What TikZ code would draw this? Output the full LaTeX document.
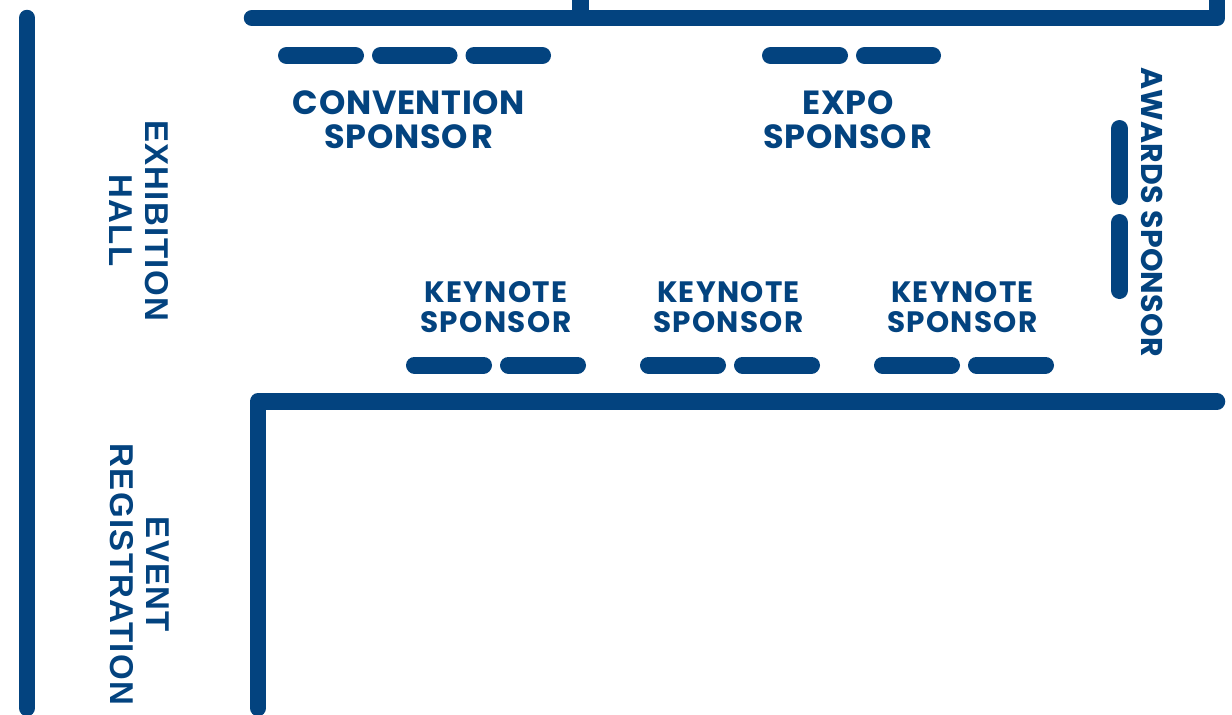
\documentclass[tikz,border=0pt]{standalone}
\usepackage{fontspec}
\newfontfamily\bigfont{Poppins Bold}[LetterSpace=2]
\newfontfamily\smallfont{Poppins Bold}[LetterSpace=4.4]
\newfontfamily\awardfont{Poppins Bold}[LetterSpace=0.7]
\newfontfamily\hallfont{Liberation Sans Bold}[LetterSpace=4]
\definecolor{navy}{HTML}{03437F}
\tikzset{
  x=1pt,y=-1pt,
  wall/.style={line width=16.5pt,draw=navy,line cap=round,line join=round},
  slot/.style={line width=17pt,draw=navy,line cap=round},
  biglabel/.style={text=navy,align=center,inner sep=0pt,font=\fontsize{33.5}{34}\selectfont\bigfont},
  smalllabel/.style={text=navy,align=center,inner sep=0pt,font=\fontsize{29.5}{30}\selectfont\smallfont},
  sidelabel/.style={text=navy,align=center,inner sep=0pt,rotate=-90,font=\fontsize{33}{36}\selectfont\hallfont},
  awardlabel/.style={text=navy,inner sep=0pt,rotate=-90,font=\fontsize{30}{30}\selectfont\awardfont},
}
\newcommand{\spons}{SPONSO\kern4pt R}
\newcommand{\sponsb}{SPONSO\kern2pt R}
\begin{document}
\begin{tikzpicture}
\useasboundingbox (0,0) rectangle (1232,715);
\begin{scope}
\clip (0,0) rectangle (1232,715);
% walls
\draw[wall] (252,18) -- (1217,18) -- (1217,-20);
\draw[wall,line cap=butt] (580.5,18) -- (580.5,-5);
\draw[wall] (27,18) -- (27,708);
\draw[wall] (1217,401.5) -- (258,401.5) -- (258,708);
\end{scope}
% slots
\draw[slot] (286.5,55.5) -- (355.5,55.5);
\draw[slot] (380.5,55.5) -- (449,55.5);
\draw[slot] (474,55.5) -- (542.5,55.5);
\draw[slot] (770.5,55.5) -- (839.5,55.5);
\draw[slot] (864.5,55.5) -- (932.5,55.5);
\draw[slot] (414.5,365) -- (483.5,365);
\draw[slot] (508.5,365) -- (577.5,365);
\draw[slot] (648.5,365) -- (717.5,365);
\draw[slot] (742.5,365) -- (811.5,365);
\draw[slot] (882.5,365) -- (951.5,365);
\draw[slot] (976.5,365) -- (1045.5,365);
\draw[slot] (1119.5,128.5) -- (1119.5,196.5);
\draw[slot] (1119.5,222.5) -- (1119.5,290.5);
% labels
\node[biglabel] (convention) at (409,119.5) {CONVENTION\\\spons};
\node[biglabel] (expo) at (848,119.5) {EXPO\\\spons};
\node[smalllabel] (keynoteA) at (496,307.5) {KEYNOTE\\\sponsb};
\node[smalllabel] (keynoteB) at (728.5,307.5) {KEYNOTE\\\sponsb};
\node[smalllabel] (keynoteC) at (962.5,307.5) {KEYNOTE\\\sponsb};
\node[awardlabel] (awards) at (1152,212) {AWARDS SPONSOR};
\node[sidelabel] (hall) at (139.5,220.5) {EXHIBITION\\HALL};
\node[sidelabel] (registration) at (139.5,574.5) {EVENT\\REGISTRATION};
\end{tikzpicture}
\end{document}
